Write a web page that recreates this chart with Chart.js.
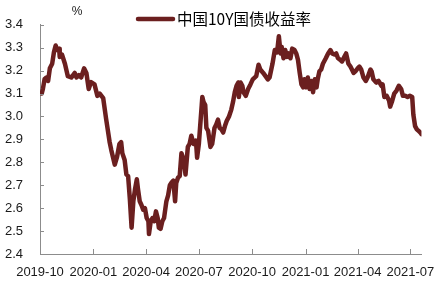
<!DOCTYPE html>
<html>
<head>
<meta charset="utf-8">
<script src="https://cdn.jsdelivr.net/npm/chart.js@4"></script>
<style>
  html, body { margin: 0; padding: 0; background: #fff; }
  #wrap { width: 446px; height: 291px; }
</style>
</head>
<body>
<div id="wrap"><canvas id="c"></canvas></div>
<script>
const SERIES_NAME = '中国10Y国债收益率';
const UNIT = '%';

const dates = [
  '2019-10-04','2019-10-06','2019-10-09','2019-10-12','2019-10-15','2019-10-18','2019-10-22','2019-10-25','2019-10-28','2019-10-31',
  '2019-11-03','2019-11-04','2019-11-08','2019-11-13','2019-11-18','2019-11-24','2019-11-30','2019-12-03','2019-12-07','2019-12-11',
  '2019-12-16','2019-12-20','2019-12-24','2019-12-28','2020-01-03','2020-01-08','2020-01-12','2020-01-18','2020-01-23','2020-01-29',
  '2020-02-01','2020-02-07','2020-02-11','2020-02-15','2020-02-18','2020-02-20','2020-02-24','2020-02-27','2020-03-01','2020-03-04',
  '2020-03-07','2020-03-10','2020-03-13','2020-03-16','2020-03-18','2020-03-21','2020-03-24','2020-03-27','2020-03-30','2020-04-02',
  '2020-04-05','2020-04-06','2020-04-09','2020-04-12','2020-04-15','2020-04-18','2020-04-21','2020-04-23','2020-04-26','2020-04-29',
  '2020-05-02','2020-05-06','2020-05-09','2020-05-12','2020-05-15','2020-05-18','2020-05-21','2020-05-23','2020-05-26','2020-05-29',
  '2020-06-01','2020-06-05','2020-06-08','2020-06-12','2020-06-15','2020-06-18','2020-06-22','2020-06-26','2020-06-28','2020-07-01',
  '2020-07-06','2020-07-07','2020-07-09','2020-07-12','2020-07-14','2020-07-17','2020-07-21','2020-07-24','2020-07-28','2020-07-31',
  '2020-08-03','2020-08-06','2020-08-09','2020-08-12','2020-08-15','2020-08-18','2020-08-22','2020-08-26','2020-08-29','2020-09-01',
  '2020-09-04','2020-09-07','2020-09-08','2020-09-11','2020-09-14','2020-09-16','2020-09-20','2020-09-24','2020-09-28','2020-10-02',
  '2020-10-08','2020-10-12','2020-10-15','2020-10-20','2020-10-24','2020-10-28','2020-10-31','2020-11-05','2020-11-09','2020-11-13',
  '2020-11-16','2020-11-19','2020-11-21','2020-11-24','2020-11-27','2020-11-30','2020-12-03','2020-12-06','2020-12-09','2020-12-13',
  '2020-12-16','2020-12-19','2020-12-22','2020-12-25','2020-12-28','2020-12-30','2021-01-02','2021-01-05','2021-01-08','2021-01-11',
  '2021-01-14','2021-01-17','2021-01-20','2021-01-22','2021-01-25','2021-01-28','2021-01-31','2021-02-05','2021-02-09','2021-02-13',
  '2021-02-16','2021-02-20','2021-02-23','2021-02-26','2021-03-02','2021-03-05','2021-03-09','2021-03-12','2021-03-16','2021-03-19',
  '2021-03-21','2021-03-25','2021-03-28','2021-04-01','2021-04-04','2021-04-07','2021-04-11','2021-04-15','2021-04-18','2021-04-23',
  '2021-04-25','2021-04-28','2021-05-03','2021-05-07','2021-05-12','2021-05-14','2021-05-17','2021-05-21','2021-05-25','2021-05-27',
  '2021-05-30','2021-06-03','2021-06-07','2021-06-11','2021-06-15','2021-06-18','2021-06-22','2021-06-26','2021-06-30','2021-07-04',
  '2021-07-06','2021-07-09','2021-07-12','2021-07-15','2021-07-18','2021-07-20'
];

const yields = [
  3.100,3.120,3.164,3.170,3.155,3.210,3.230,3.280,3.310,3.290,
  3.295,3.260,3.270,3.230,3.176,3.170,3.190,3.170,3.180,3.170,
  3.210,3.190,3.120,3.150,3.140,3.090,3.100,3.080,2.990,2.890,
  2.853,2.790,2.825,2.880,2.888,2.840,2.810,2.747,2.740,2.640,
  2.515,2.630,2.684,2.726,2.684,2.630,2.614,2.593,2.600,2.557,
  2.543,2.487,2.543,2.557,2.543,2.586,2.557,2.515,2.510,2.543,
  2.557,2.630,2.656,2.700,2.712,2.720,2.630,2.710,2.733,2.740,
  2.840,2.810,2.747,2.867,2.880,2.916,2.880,2.895,2.820,2.880,
  3.050,3.085,3.064,3.050,2.950,2.937,2.867,2.880,2.950,2.965,
  2.986,2.950,2.944,2.930,2.958,2.980,3.000,3.030,3.064,3.106,
  3.134,3.148,3.085,3.148,3.134,3.106,3.090,3.120,3.140,3.162,
  3.176,3.226,3.205,3.190,3.176,3.162,3.170,3.230,3.290,3.280,
  3.350,3.275,3.303,3.254,3.290,3.260,3.275,3.254,3.296,3.290,
  3.275,3.247,3.190,3.140,3.127,3.162,3.127,3.170,3.120,3.155,
  3.106,3.162,3.127,3.162,3.197,3.205,3.230,3.254,3.275,3.290,
  3.275,3.270,3.275,3.254,3.247,3.240,3.260,3.275,3.230,3.220,
  3.210,3.190,3.197,3.210,3.218,3.205,3.170,3.155,3.170,3.205,
  3.197,3.162,3.148,3.155,3.134,3.140,3.085,3.090,3.070,3.043,
  3.064,3.100,3.113,3.134,3.120,3.090,3.090,3.085,3.090,3.085,
  3.008,2.958,2.944,2.937,2.930,2.923
];

const tickLabels = ['2019-10','2020-01','2020-04','2020-07','2020-10','2021-01','2021-04','2021-07'];
const xStart = '2019-10-01';
const xEnd = '2021-07-20';
const yMin = 2.4, yMax = 3.4, yStep = 0.1;

const LINE_COLOR = '#6b1f1f';
const AXIS_COLOR = '#8c8c8c';
const TEXT_COLOR = '#1a1a1a';

function dayOf(s) {
  const p = s.split('-').map(Number);
  const base = Date.UTC(2019, 9, 1);
  return (Date.UTC(p[0], p[1] - 1, p[2] || 1) - base) / 864e5;
}

const points = dates.map((d, i) => ({ x: dayOf(d), y: yields[i] }));
const tickDays = tickLabels.map(t => dayOf(t));

// excel style inside tick marks, unit label and legend
const decor = {
  id: 'decor',
  afterDraw(chart) {
    const ctx = chart.ctx;
    const area = chart.chartArea;
    const xs = chart.scales.x, ys = chart.scales.y;
    ctx.save();
    ctx.strokeStyle = AXIS_COLOR;
    ctx.lineWidth = 1;
    ctx.beginPath();
    ys.ticks.forEach(t => {
      const py = Math.round(ys.getPixelForValue(t.value)) + 0.5;
      ctx.moveTo(area.left, py);
      ctx.lineTo(area.left + 4, py);
    });
    tickDays.forEach(d => {
      const px = Math.round(xs.getPixelForValue(d)) + 0.5;
      ctx.moveTo(px, area.bottom);
      ctx.lineTo(px, area.bottom - 5);
    });
    ctx.stroke();

    ctx.fillStyle = TEXT_COLOR;
    ctx.font = '12px "Liberation Sans", Arial, sans-serif';
    ctx.textAlign = 'center';
    ctx.textBaseline = 'middle';
    ctx.fillText(UNIT, 77, 12);

    ctx.strokeStyle = LINE_COLOR;
    ctx.lineWidth = 4.5;
    ctx.lineCap = 'round';
    ctx.beginPath();
    ctx.moveTo(138, 19);
    ctx.lineTo(173, 19);
    ctx.stroke();
    ctx.font = '15.5px "Noto Sans CJK SC", sans-serif';
    ctx.textAlign = 'left';
    ctx.fillStyle = '#000';
    ctx.fillText(SERIES_NAME, 177, 19);
    ctx.restore();
  }
};

new Chart(document.getElementById('c'), {
  type: 'line',
  data: {
    datasets: [{
      label: SERIES_NAME,
      data: points,
      borderColor: LINE_COLOR,
      borderWidth: 4.5,
      pointRadius: 0,
      tension: 0,
      borderJoinStyle: 'round',
      borderCapStyle: 'round',
      fill: false
    }]
  },
  options: {
    responsive: true,
    maintainAspectRatio: false,
    animation: false,
    events: [],
    layout: { padding: { top: 9, right: 24, left: 0, bottom: 0 } },
    plugins: {
      legend: { display: false },
      tooltip: { enabled: false }
    },
    scales: {
      x: {
        type: 'linear',
        min: dayOf(xStart),
        max: dayOf(xEnd),
        afterBuildTicks(scale) {
          scale.ticks = tickDays.map(v => ({ value: v }));
        },
        afterFit(scale) { scale.height = 37; },
        ticks: {
          autoSkip: false,
          maxRotation: 0,
          padding: 11,
          color: TEXT_COLOR,
          font: { family: '"Liberation Sans", Arial, sans-serif', size: 13 },
          callback: (v) => tickLabels[tickDays.indexOf(v)]
        },
        grid: { display: true, drawOnChartArea: false, drawTicks: false },
        border: { display: true, color: AXIS_COLOR, width: 1 }
      },
      y: {
        min: yMin,
        max: yMax,
        afterFit(scale) { scale.width = 40; },
        ticks: {
          stepSize: yStep,
          padding: 17,
          color: TEXT_COLOR,
          font: { family: '"Liberation Sans", Arial, sans-serif', size: 13 },
          callback: (v) => Number(v).toFixed(1)
        },
        grid: { display: true, drawOnChartArea: false, drawTicks: false },
        border: { display: true, color: AXIS_COLOR, width: 1 }
      }
    }
  },
  plugins: [decor]
});
</script>
</body>
</html>
